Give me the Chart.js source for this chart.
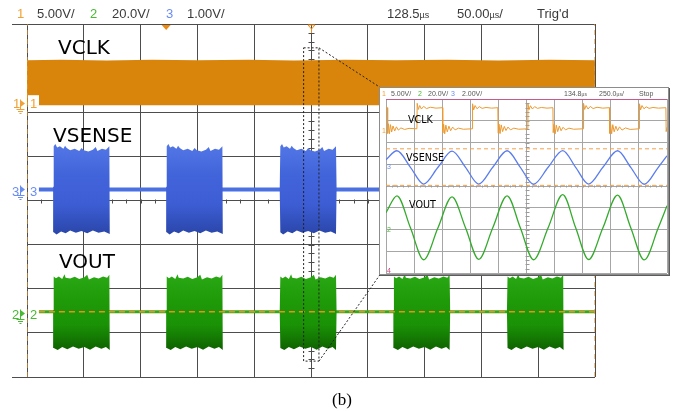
<!DOCTYPE html>
<html>
<head>
<meta charset="utf-8">
<script src="https://cdn.jsdelivr.net/npm/chart.js"></script>
<style>
  body { margin: 0; width: 676px; height: 411px; overflow: hidden; position: relative; background: #fff; }
  #scope { position: absolute; left: 0; top: 0; }
  #zoomBox { position: absolute; left: 379px; top: 87px; width: 288px; height: 186px; border: 1px solid #8c8c8c; box-shadow: 1px 1px 0 #5c5c5c; background: #fff; }
  #zoomBox canvas { position: absolute; left: 0; top: 0; }
  .t { position: absolute; line-height: 1; white-space: nowrap; }
</style>
</head>
<body>
<canvas id="scope" width="676" height="411"></canvas>
<div id="zoomBox"><canvas id="zoom" width="288" height="186"></canvas></div>
<script>
// main screen, values in screen divisions (10 x 8)
const clkTopEdge = [[0, 7.18], [0.6, 7.19], [1.4, 7.175], [2.2, 7.19], [3.0, 7.18], [3.9, 7.19], [4.7, 7.175],
  [5.6, 7.19], [6.5, 7.18], [7.4, 7.19], [8.3, 7.175], [9.2, 7.19], [10, 7.18]];
const clkBottomEdge = 6.16;
const burstStarts = [0.46, 2.45, 4.45, 6.45, 8.45];
const traceStart = 0.21;

// VSENSE burst envelope: [offset from burst start, offset from trace level]
const senseLevel = 4.25;
const senseTop = [[0, 0.06], [0.01, 0.98], [0.04, 1.03], [0.07, 0.95], [0.12, 0.98], [0.18, 0.92], [0.21, 0.99],
  [0.24, 0.94], [0.3, 0.89], [0.38, 0.92], [0.46, 0.87], [0.5, 0.94], [0.54, 0.89], [0.62, 0.86], [0.7, 0.9],
  [0.75, 0.96], [0.78, 0.87], [0.86, 0.92], [0.93, 0.9], [0.99, 0.98], [1.0, 0.06]];
const senseBottom = [[0, -0.06], [0.01, -0.97], [0.06, -1.02], [0.14, -0.95], [0.22, -0.99], [0.3, -0.93],
  [0.4, -0.98], [0.5, -0.94], [0.6, -0.99], [0.7, -0.93], [0.8, -0.98], [0.9, -0.95], [0.99, -1.01], [1.0, -0.06]];

// VOUT burst envelope
const outLevel = 1.48;
const outTop = [[0, 0.03], [0.01, 0.8], [0.05, 0.76], [0.1, 0.8], [0.16, 0.74], [0.2, 0.85], [0.22, 0.77],
  [0.3, 0.75], [0.38, 0.79], [0.46, 0.74], [0.55, 0.78], [0.6, 0.84], [0.63, 0.73], [0.72, 0.78], [0.8, 0.75],
  [0.88, 0.8], [0.95, 0.77], [0.99, 0.84], [1.0, 0.03]];
const outBottom = [[0, -0.03], [0.01, -0.82], [0.08, -0.87], [0.16, -0.8], [0.25, -0.85], [0.35, -0.79],
  [0.45, -0.84], [0.55, -0.8], [0.65, -0.86], [0.75, -0.79], [0.85, -0.84], [0.93, -0.8], [0.99, -0.87], [1.0, -0.03]];

// zoomed screen
const zClk = [
  [0, 7.6], [0.05, 7.6], [0.06, 6.42], [0.09, 6.86], [0.12, 6.4], [0.16, 6.82], [0.2, 6.48], [0.25, 6.76], [0.31, 6.53],
  [0.37, 6.72], [0.44, 6.57], [0.53, 6.67], [0.66, 6.6], [0.82, 6.65], [1.1, 6.63],
  [1.11, 7.8], [1.15, 7.52], [1.2, 7.7], [1.26, 7.54], [1.34, 7.66], [1.44, 7.56], [1.58, 7.62], [1.78, 7.58], [2.01, 7.6],
  [2.02, 6.44], [2.05, 6.84], [2.09, 6.4], [2.13, 6.8], [2.18, 6.49], [2.24, 6.75], [2.3, 6.54], [2.37, 6.71], [2.46, 6.58],
  [2.58, 6.66], [2.75, 6.61], [3.07, 6.63],
  [3.08, 7.78], [3.12, 7.5], [3.17, 7.7], [3.24, 7.55], [3.32, 7.65], [3.42, 7.57], [3.56, 7.61], [3.76, 7.58], [3.98, 7.6],
  [3.99, 6.43], [4.02, 6.85], [4.06, 6.41], [4.1, 6.81], [4.15, 6.5], [4.21, 6.74], [4.27, 6.55], [4.34, 6.71], [4.43, 6.58],
  [4.55, 6.66], [4.72, 6.61], [5.04, 6.63],
  [5.05, 7.79], [5.09, 7.51], [5.14, 7.69], [5.21, 7.54], [5.29, 7.65], [5.39, 7.57], [5.53, 7.61], [5.73, 7.58], [5.94, 7.6],
  [5.95, 6.45], [5.98, 6.84], [6.02, 6.4], [6.06, 6.8], [6.11, 6.5], [6.17, 6.76], [6.23, 6.54], [6.3, 6.7], [6.39, 6.58],
  [6.51, 6.66], [6.68, 6.61], [7.02, 6.63],
  [7.03, 7.8], [7.07, 7.52], [7.12, 7.7], [7.19, 7.54], [7.27, 7.66], [7.37, 7.56], [7.51, 7.62], [7.71, 7.58], [7.95, 7.6],
  [7.96, 6.42], [7.99, 6.86], [8.03, 6.4], [8.07, 6.82], [8.12, 6.49], [8.18, 6.75], [8.24, 6.54], [8.31, 6.72], [8.4, 6.57],
  [8.52, 6.67], [8.69, 6.6], [9.01, 6.63],
  [9.02, 7.78], [9.06, 7.5], [9.11, 7.7], [9.18, 7.55], [9.26, 7.64], [9.36, 7.57], [9.5, 7.61], [9.7, 7.58], [9.96, 7.6],
  [9.97, 6.5], [10, 6.7]];
const zSense = [[0, 5.21], [0.39, 5.62], [0.87, 4.86], [1.34, 4.09], [1.85, 4.86], [2.35, 5.6], [2.83, 4.86],
  [3.3, 4.09], [3.8, 4.86], [4.31, 5.62], [4.78, 4.86], [5.25, 4.08], [5.77, 4.86], [6.29, 5.63], [6.75, 4.86],
  [7.21, 4.09], [7.72, 4.86], [8.24, 5.62], [8.71, 4.86], [9.19, 4.08], [9.69, 4.86], [10, 5.39]];
const zOut = [[0, 2.77], [0.39, 3.55], [0.87, 2.08], [1.34, 0.61], [1.85, 2.08], [2.35, 3.5], [2.83, 2.08],
  [3.3, 0.63], [3.8, 2.08], [4.31, 3.55], [4.78, 2.08], [5.25, 0.61], [5.77, 2.08], [6.29, 3.6], [6.75, 2.08],
  [7.21, 0.62], [7.72, 2.08], [8.24, 3.58], [8.71, 2.08], [9.19, 0.6], [9.69, 2.08], [10, 3.09]];
const zRefLines = [5.71, 4.03];

const ORANGE = '#d9840a';

const pts = a => a.map(([x, y]) => ({ x, y }));

function burst(start, level, top, bottom) {
  const up = top.map(([dx, dy]) => [start + dx, level + dy]);
  const down = bottom.slice().reverse().map(([dx, dy]) => [start + dx, level + dy]);
  return pts(up.concat(down));
}

function vGrad(level, hi, lo, stops) {
  return c => {
    const ch = c.chart;
    if (!ch.chartArea) return stops[1];
    const y = ch.scales.y;
    const g = ch.ctx.createLinearGradient(0, y.getPixelForValue(level + hi), 0, y.getPixelForValue(level + lo));
    stops.forEach((s, i) => g.addColorStop(i / (stops.length - 1), s));
    return g;
  };
}

function shape(data, fillColor) {
  return { data, fill: 'shape', backgroundColor: fillColor, borderColor: 'rgba(0,0,0,0)', borderWidth: 1, pointRadius: 0, tension: 0 };
}

function trace(data, color, width, dash, extra) {
  return Object.assign({ data, borderColor: color, borderWidth: width, borderDash: dash || [], pointRadius: 0, fill: false, tension: 0 }, extra || {});
}

function addText(html, x, base, size, color, family) {
  const d = document.createElement('div');
  d.className = 't';
  d.innerHTML = html;
  const k = family.indexOf('Serif') >= 0 ? 0.8375 : 0.846;
  d.style.cssText = 'left:' + x + 'px;top:' + (base - k * size) + 'px;font-size:' + size + 'px;color:' + color + ';font-family:' + family;
  document.body.appendChild(d);
}

function centreTicks(chart, col, xStep, yStep, len) {
  const { ctx, scales: { x, y } } = chart;
  const cx = Math.round(x.getPixelForValue(5)) + 0.5, cy = Math.round(y.getPixelForValue(4)) + 0.5;
  ctx.strokeStyle = col;
  ctx.lineWidth = 1;
  ctx.beginPath();
  for (let i = 0; i <= 8 * yStep; i++) {
    const py = Math.round(y.getPixelForValue(i / yStep)) + 0.5;
    ctx.moveTo(cx - len, py); ctx.lineTo(cx + len, py);
  }
  for (let i = 0; i <= 10 * xStep; i++) {
    const px = Math.round(x.getPixelForValue(i / xStep)) + 0.5;
    ctx.moveTo(px, cy - len + 1); ctx.lineTo(px, cy + len - 1);
  }
  ctx.stroke();
}

// ---------- main screen ----------
const mainSets = [];
mainSets.push(shape(pts(clkTopEdge.concat([[10, clkBottomEdge], [0, clkBottomEdge]])), ORANGE));
mainSets.push(trace(pts([[traceStart, senseLevel], [10, senseLevel]]), '#4a70e2', 4));
burstStarts.forEach(s => mainSets.push(shape(burst(s, senseLevel, senseTop, senseBottom),
  vGrad(senseLevel, 1, -1, ['#5276e6', '#4264da', '#3d5dd4', '#2b47ab']))));
mainSets.push(trace(pts([[traceStart, outLevel], [10, outLevel]]), '#36a81a', 3));
burstStarts.forEach(s => mainSets.push(shape(burst(s, outLevel, outTop, outBottom),
  vGrad(outLevel, 0.85, -0.87, ['#2aa814', '#1f9a08', '#1a9206', '#0e6200']))));
mainSets.push(trace(pts([[traceStart, outLevel], [10, outLevel]]), '#e8901c', 1.5, [6, 4]));
mainSets.push(trace(pts([[0, 0], [0, 8]]), '#ec9a30', 1.2, [5, 4]));
mainSets.push(trace(pts([[10, 0], [10, 8]]), '#ec9a30', 1.2, [5, 4]));
// zoom window and its leader lines to the inset
mainSets.push(trace(pts([[4.87, 7.46], [5.14, 7.46], [5.14, 0.36], [4.87, 0.36], [4.87, 7.46]]), '#222', 1, [2, 2]));
mainSets.push(trace(pts([[5.14, 7.46], [6.21, 6.57]]), '#222', 1, [2, 2]));
mainSets.push(trace(pts([[5.14, 0.36], [6.21, 2.31]]), '#222', 1, [2, 2]));

const channelMarks = [
  { level: 6.2, color: '#f0a035' },
  { level: senseLevel, color: '#6b8df0' },
  { level: outLevel - 0.03, color: '#49b833' }
];

const scopeDecor = {
  id: 'scopeDecor',
  beforeDatasetsDraw(chart) {
    chart.ctx.save();
    centreTicks(chart, '#4d4d4d', 4, 5, 3);
    chart.ctx.restore();
  },
  afterDatasetsDraw(chart) {
    const { ctx, chartArea: a, scales: { x, y } } = chart;
    ctx.save();
    ctx.strokeStyle = '#4d4d4d';
    ctx.lineWidth = 1;
    ctx.beginPath();
    [a.top, a.bottom].forEach(py => { const p = Math.round(py) + 0.5; ctx.moveTo(12, p); ctx.lineTo(a.left, p); });
    ctx.stroke();
    // white tab behind the channel-1 number
    const by = y.getPixelForValue(clkBottomEdge);
    ctx.fillStyle = '#fff';
    ctx.fillRect(a.left + 1, by - 10, 11, 10.5);
    // trigger position marker
    const tx = x.getPixelForValue(burstStarts[1]);
    ctx.fillStyle = '#ef8a10';
    ctx.beginPath(); ctx.moveTo(tx - 4.5, a.top + 1); ctx.lineTo(tx + 4.5, a.top + 1); ctx.lineTo(tx, a.top + 6); ctx.fill();
    const cx = Math.round(x.getPixelForValue(5)) + 0.5;
    ctx.strokeStyle = '#ef8a10';
    ctx.beginPath(); ctx.moveTo(cx - 3.5, a.top + 1); ctx.lineTo(cx + 3.5, a.top + 1); ctx.lineTo(cx, a.top + 5);
    ctx.closePath(); ctx.moveTo(cx, a.top + 5); ctx.lineTo(cx, a.top + 9); ctx.stroke();
    // channel ground markers in the left margin
    channelMarks.forEach(m => {
      const py = Math.round(y.getPixelForValue(m.level)) + 0.5;
      ctx.strokeStyle = m.color; ctx.fillStyle = m.color;
      ctx.beginPath(); ctx.moveTo(20.5, py - 4); ctx.lineTo(20.5, py + 6); ctx.stroke();
      ctx.beginPath(); ctx.moveTo(20.5, py - 3.5); ctx.lineTo(25, py); ctx.lineTo(20.5, py + 3.5); ctx.fill();
      ctx.beginPath();
      ctx.moveTo(16.5, py + 6); ctx.lineTo(24.5, py + 6);
      ctx.moveTo(18, py + 8); ctx.lineTo(23, py + 8);
      ctx.moveTo(19.5, py + 10); ctx.lineTo(21.5, py + 10);
      ctx.stroke();
    });
    ctx.restore();
  }
};

function scopeScales(gridColor) {
  return {
    x: { type: 'linear', min: 0, max: 10, ticks: { display: false, stepSize: 1 }, grid: { color: gridColor, drawTicks: false }, border: { display: false } },
    y: { type: 'linear', min: 0, max: 8, ticks: { display: false, stepSize: 1 }, grid: { color: gridColor, drawTicks: false }, border: { display: false } }
  };
}

new Chart(document.getElementById('scope'), {
  type: 'line',
  data: { datasets: mainSets.reverse() },
  options: {
    responsive: false, devicePixelRatio: 1, animation: false, events: [],
    layout: { padding: { left: 27, right: 81, top: 24, bottom: 34 } },
    scales: scopeScales('#4d4d4d'),
    plugins: { legend: { display: false }, tooltip: { enabled: false } }
  },
  plugins: [scopeDecor]
});

// ---------- zoomed inset ----------
const zoomSets = [];
zRefLines.forEach(v => zoomSets.push(trace(pts([[0, v], [10, v]]), '#f2a14a', 1, [4, 3])));
zoomSets.push(trace(pts([[0, 8], [10, 8]]), '#d3407c', 1.5));
zoomSets.push(trace(pts(zClk), '#eb9a32', 1));
zoomSets.push(trace(pts(zSense), '#5a7cee', 1.3, null, { cubicInterpolationMode: 'monotone' }));
zoomSets.push(trace(pts(zOut), '#34aa2c', 1.3, null, { cubicInterpolationMode: 'monotone' }));

new Chart(document.getElementById('zoom'), {
  type: 'line',
  data: { datasets: zoomSets.reverse() },
  options: {
    responsive: false, devicePixelRatio: 1, animation: false, events: [],
    layout: { padding: { left: 6, right: 1, top: 11, bottom: 1 } },
    scales: scopeScales('#a6a6a6'),
    plugins: { legend: { display: false }, tooltip: { enabled: false } }
  },
  plugins: [{ id: 'zoomDecor', beforeDatasetsDraw(chart) { chart.ctx.save(); centreTicks(chart, '#9a9a9a', 5, 5, 2); chart.ctx.restore(); } }]
});

// ---------- text ----------
const SANS = "'Liberation Sans', Arial, sans-serif", DJV = "'DejaVu Sans', sans-serif", SERIF = "'Liberation Serif', serif";
const mu = '<span style="font-size:9px">µs</span>';
[['1', 17, '#f0a035'], ['5.00V/', 37, '#3a3a3a'], ['2', 90, '#49b833'], ['20.0V/', 112, '#3a3a3a'],
 ['3', 166, '#6b8df0'], ['1.00V/', 187, '#3a3a3a'], ['128.5' + mu, 387, '#3a3a3a'], ['50.00' + mu + '/', 457, '#3a3a3a'],
 ["Trig'd", 537, '#3a3a3a']].forEach(([s, x, c]) => addText(s, x, 18, 13, c, SANS));
addText('VCLK', 58, 54, 20, '#000', DJV);
addText('VSENSE', 53, 142, 20, '#000', DJV);
addText('VOUT', 59, 268, 20, '#000', DJV);
[['1', 13, 108, '#f0a035'], ['1', 30, 108, '#f0a035'], ['3', 12, 196, '#6b8df0'], ['3', 30, 196, '#6b8df0'],
 ['2', 12, 319, '#49b833'], ['2', 30, 319, '#49b833']].forEach(([s, x, b, c]) => addText(s, x, b, 13, c, SANS));
addText('(b)', 332, 405, 17, '#000', SERIF);

const mu2 = '<span style="font-size:5px">µs</span>';
[['1', 382, '#f0a035'], ['5.00V/', 391, '#555'], ['2', 418, '#49b833'], ['20.0V/', 428, '#555'], ['3', 451, '#6b8df0'],
 ['2.00V/', 462, '#555'], ['134.8' + mu2, 564, '#555'], ['250.0' + mu2 + '/', 599, '#555'], ['Stop', 639, '#555']]
  .forEach(([s, x, c]) => addText(s, x, 96, 7, c, SANS));
addText('VCLK', 408, 123, 9.6, '#000', DJV);
addText('VSENSE', 406, 161, 9.6, '#000', DJV);
addText('VOUT', 409, 208, 9.6, '#000', DJV);
[['1', 382, 133, '#f0a035'], ['3', 387, 169, '#6b8df0'], ['2', 387, 232, '#49b833'], ['4', 387, 273, '#d3407c']]
  .forEach(([s, x, b, c]) => addText(s, x, b, 7, c, SANS));
</script>
</body>
</html>
